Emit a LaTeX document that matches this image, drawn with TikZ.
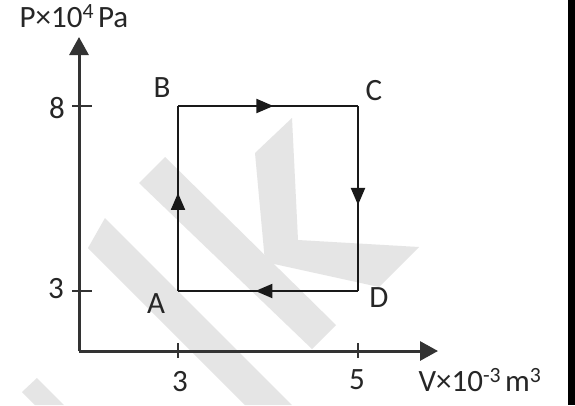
\documentclass[tikz,border=0pt]{standalone}
\usepackage{fontspec}
\setmainfont{Carlito}
\usetikzlibrary{arrows.meta,decorations.markings}
\begin{document}
\begin{tikzpicture}[x=1pt,y=-1pt,
  lbl/.style={font=\fontsize{31}{32}\selectfont, text=black!85, inner sep=0pt},
  axis/.style={line width=3pt, draw=black!80, -{Triangle[length=18pt,width=19pt]}},
  tick/.style={line width=1.8pt, draw=black!80},
  cyc/.style={line width=2pt, draw=black!90},
  midarrow/.style={postaction={decorate},decoration={markings,
    mark=at position #1 with {\arrow{Triangle[length=17pt,width=14pt]}}}},
  wm/.style={fill=black!10, draw=none}]
\useasboundingbox (0,0) rectangle (575,405);
\fill[white] (0,0) rectangle (575,405);
% watermark
\fill[wm] (139,183) -- (165,157) -- (336,325) -- (312,349) -- cycle;
\fill[wm] (88,248) -- (105,218) -- (292,405) -- (245,405) -- cycle;
\fill[wm] (22,392) -- (37,378) -- (64,405) -- (35,405) -- cycle;
\fill[wm] (255,153) -- (292,118) -- (298,240) -- (419,247) -- (379,287) -- (265,262) -- cycle;
% right bar
\fill[black] (568,0) rectangle (575,405);
% coordinates
\coordinate (O) at (79,351);
\coordinate (Ytip) at (79,37);
\coordinate (Xtip) at (438,351);
\coordinate (A) at (178,291);
\coordinate (B) at (178,106);
\coordinate (C) at (358,106);
\coordinate (D) at (358,291);
\coordinate (t8a) at (72,106); \coordinate (t8b) at (92,106);
\coordinate (t3a) at (72,291); \coordinate (t3b) at (92,291);
\coordinate (x3a) at (178,343); \coordinate (x3b) at (178,358);
\coordinate (x5a) at (358,343); \coordinate (x5b) at (358,358);
% axes
\draw[axis] (O) -- (Ytip);
\draw[axis] (O) -- (Xtip);
\draw[tick] (t8a) -- (t8b);
\draw[tick] (t3a) -- (t3b);
\draw[tick] (x3a) -- (x3b);
\draw[tick] (x5a) -- (x5b);
% cycle
\draw[cyc, midarrow=0.53] (A) -- (B);
\draw[cyc, midarrow=0.53] (B) -- (C);
\draw[cyc, midarrow=0.535] (C) -- (D);
\draw[cyc, midarrow=0.57] (D) -- (A);
% labels
\node[lbl] (lP) at (74,16) {P×10\textsuperscript{4}\kern4pt Pa};
\node[lbl] (l8) at (57,108) {8};
\node[lbl] (l3y) at (56,289) {3};
\node[lbl] (lB) at (162,88) {B};
\node[lbl] (lC) at (374,91) {C};
\node[lbl] (lA) at (156,304) {A};
\node[lbl] (lD) at (379,298) {D};
\node[lbl] (l3x) at (180,382) {3};
\node[lbl] (l5x) at (357,380) {5};
\node[lbl] (lV) at (480,380) {V×10\textsuperscript{-3}\kern4pt m\textsuperscript{3}};
\end{tikzpicture}
\end{document}
